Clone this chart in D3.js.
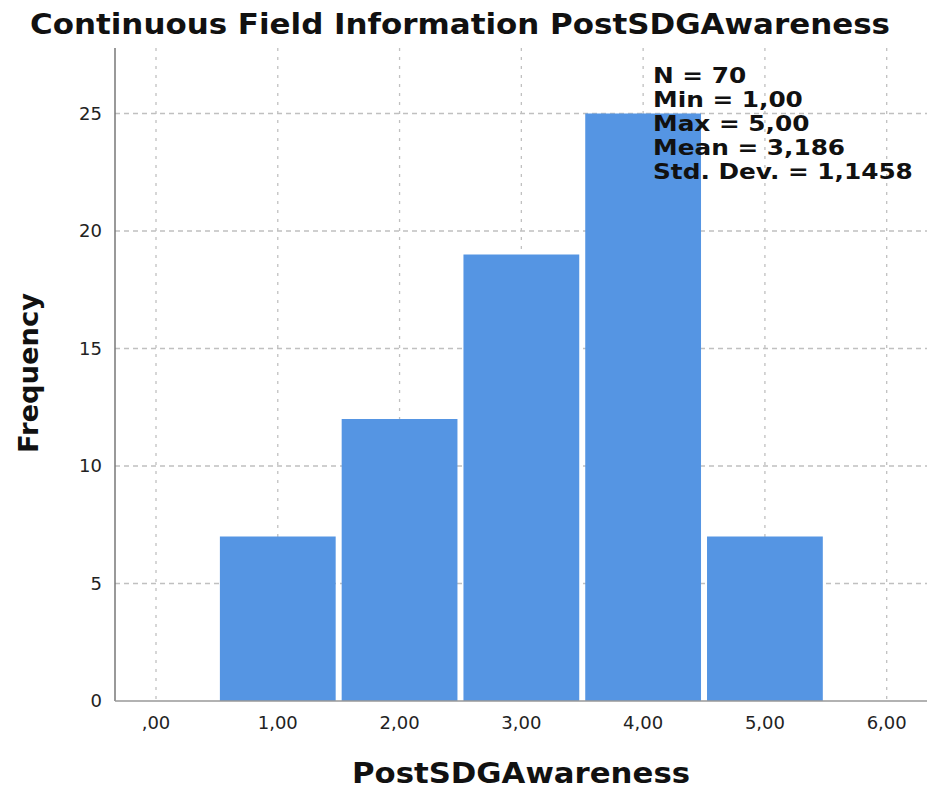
<html><head>
<script src="https://cdnjs.cloudflare.com/ajax/libs/d3/7.8.5/d3.min.js"></script>
<style>
  body { margin: 0; background: #fff; }
  svg { display: block; font-family: "DejaVu Sans", Verdana, sans-serif; }
</style>
</head>
<body>
<div id="chart"></div>
<script>
// histogram data
const binCenters = [1, 2, 3, 4, 5];
const frequencies = [7, 12, 19, 25, 7];
const xTickValues = [0, 1, 2, 3, 4, 5, 6];
const xTickLabels = [",00", "1,00", "2,00", "3,00", "4,00", "5,00", "6,00"];
const yTickValues = [0, 5, 10, 15, 20, 25];
const statLines = ["N = 70", "Min = 1,00", "Max = 5,00", "Mean = 3,186", "Std. Dev. = 1,1458"];

const W = 927, H = 790;
const plot = { left: 115, right: 927, top: 48, bottom: 701 };

const svg = d3.select("#chart").append("svg")
  .attr("width", W).attr("height", H);

const x = d3.scaleLinear().domain([0, 6]).range([156, 886.7]);
const y = d3.scaleLinear().domain([0, 25]).range([plot.bottom, 113.5]);

// grid
svg.append("g").selectAll("line").data(yTickValues.filter(d => d > 0)).join("line")
  .attr("x1", plot.left).attr("x2", plot.right)
  .attr("y1", d => y(d)).attr("y2", d => y(d))
  .attr("stroke", "#c0c0c0").attr("stroke-width", 1.3)
  .attr("stroke-dasharray", "5,4");

svg.append("g").selectAll("line").data(xTickValues).join("line")
  .attr("x1", d => x(d)).attr("x2", d => x(d))
  .attr("y1", plot.top).attr("y2", plot.bottom)
  .attr("stroke", "#c0c0c0").attr("stroke-width", 1.3)
  .attr("stroke-dasharray", "3,6");

// bars
const pad = 3;
svg.append("g").selectAll("rect").data(binCenters).join("rect")
  .attr("x", d => x(d - 0.5) + pad)
  .attr("width", d => x(d + 0.5) - x(d - 0.5) - 2 * pad)
  .attr("y", (d, i) => y(frequencies[i]))
  .attr("height", (d, i) => y(0) - y(frequencies[i]))
  .attr("fill", "#5595e3");

// axis lines
svg.append("line")
  .attr("x1", plot.left).attr("x2", plot.left)
  .attr("y1", plot.top).attr("y2", plot.bottom)
  .attr("stroke", "#777").attr("stroke-width", 1.5);
svg.append("line")
  .attr("x1", plot.left).attr("x2", plot.right)
  .attr("y1", plot.bottom).attr("y2", plot.bottom)
  .attr("stroke", "#999").attr("stroke-width", 1.5);

// tick labels
svg.append("g").selectAll("text").data(xTickValues).join("text")
  .attr("x", d => x(d)).attr("y", 729)
  .attr("text-anchor", "middle")
  .attr("font-size", 18).attr("fill", "#222")
  .text((d, i) => xTickLabels[i]);

svg.append("g").selectAll("text").data(yTickValues).join("text")
  .attr("x", 102).attr("y", d => y(d) + 6)
  .attr("text-anchor", "end")
  .attr("font-size", 18).attr("fill", "#222")
  .text(d => d);

// titles
svg.append("text")
  .attr("x", 30).attr("y", 34)
  .attr("font-size", 28).attr("font-weight", "bold").attr("fill", "#111")
  .attr("textLength", 860).attr("lengthAdjust", "spacingAndGlyphs")
  .text("Continuous Field Information PostSDGAwareness");

svg.append("text")
  .attr("x", 521).attr("y", 783)
  .attr("text-anchor", "middle")
  .attr("font-size", 28).attr("font-weight", "bold").attr("fill", "#111")
  .attr("textLength", 338).attr("lengthAdjust", "spacingAndGlyphs")
  .text("PostSDGAwareness");

svg.append("text")
  .attr("transform", "translate(38,373) rotate(-90)")
  .attr("text-anchor", "middle")
  .attr("font-size", 26).attr("font-weight", "bold").attr("fill", "#111")
  .attr("textLength", 160).attr("lengthAdjust", "spacingAndGlyphs")
  .text("Frequency");

// stats box, stretched to the wider font of the original
const stats = svg.append("g").attr("transform", "translate(653,0)");
stats.selectAll("text").data(statLines).join("text")
  .attr("x", 0).attr("y", (d, i) => 83 + i * 24)
  .attr("font-size", 21).attr("font-weight", "bold").attr("fill", "#111")
  .text(d => d);
const longest = d3.max(stats.selectAll("text").nodes(), n => n.getComputedTextLength());
const sx = 260 / longest;
stats.attr("transform", `translate(653,0) scale(${sx},1)`);
</script>
</body></html>
